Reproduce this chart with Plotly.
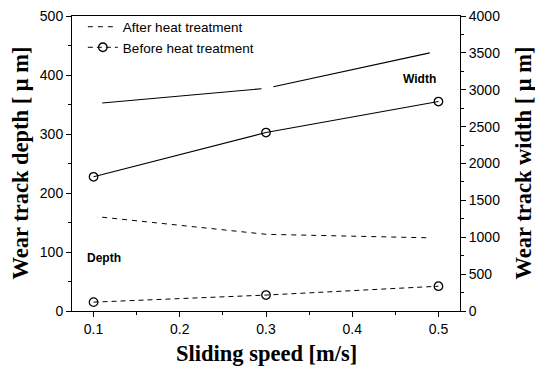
import plotly.graph_objects as go

# Data
speed_before = [0.1, 0.3, 0.5]
speed_after = [0.11, 0.3, 0.49]

depth_before = [15, 27, 42]          # left axis, um
depth_after = [159, 130, 124]        # left axis, um
width_before = [1820, 2420, 2840]    # right axis, um
width_after = [2820, 3020, 3500]     # right axis, um

x_ticks = [0.1, 0.2, 0.3, 0.4, 0.5]
left_ticks = [0, 100, 200, 300, 400, 500]
right_ticks = [0, 500, 1000, 1500, 2000, 2500, 3000, 3500, 4000]

fig = go.Figure()

fig.add_trace(go.Scatter(
    x=speed_after, y=depth_after, mode="lines", name="After heat treatment",
    line=dict(color="black", width=1, dash="5px,5px"), legendgroup="after",
))
fig.add_trace(go.Scatter(
    x=speed_before, y=depth_before, mode="lines+markers", name="Before heat treatment",
    line=dict(color="black", width=1, dash="5px,4px"),
    marker=dict(symbol="circle-open", size=8.5, color="black", line=dict(width=1.3)),
    legendgroup="before",
))
fig.add_trace(go.Scatter(
    x=speed_after, y=width_after, mode="lines", name="After heat treatment",
    line=dict(color="black", width=1.1, dash="160px,12px"), yaxis="y2",
    showlegend=False, legendgroup="after",
))
fig.add_trace(go.Scatter(
    x=speed_before, y=width_before, mode="lines+markers", name="Before heat treatment",
    line=dict(color="black", width=1.1),
    marker=dict(symbol="circle-open", size=8.5, color="black", line=dict(width=1.3)),
    yaxis="y2", showlegend=False, legendgroup="before",
))

fig.add_annotation(x=0.478, y=393, text="<b>Width</b>", showarrow=False,
                   font=dict(family="Liberation Sans", size=12, color="black"))
fig.add_annotation(x=0.112, y=89, text="<b>Depth</b>", showarrow=False,
                   font=dict(family="Liberation Sans", size=12, color="black"))

tick_font = dict(family="Liberation Sans", size=14, color="black")
title_font = dict(family="Liberation Serif", size=22.5, color="black")
xtitle_font = dict(family="Liberation Serif", size=22.5, color="black")

# Axis titles as paper-anchored annotations
fig.add_annotation(xref="paper", yref="paper", x=0, y=0.5, xshift=-52,
                   text="<b>Wear track depth [ μ m]</b>", textangle=-90, showarrow=False,
                   xanchor="center", yanchor="middle", font=title_font)
fig.add_annotation(xref="paper", yref="paper", x=1, y=0.5, xshift=63,
                   text="<b>Wear track width [ μ m]</b>", textangle=-90, showarrow=False,
                   xanchor="center", yanchor="middle", font=title_font)
fig.add_annotation(xref="paper", yref="paper", x=0.5, y=0, yshift=-42,
                   text="<b>Sliding speed [m/s]</b>", showarrow=False,
                   xanchor="center", yanchor="middle", font=xtitle_font)

fig.update_layout(
    width=535, height=370,
    margin=dict(l=72, r=75, t=15, b=59),
    paper_bgcolor="white", plot_bgcolor="white",
    showlegend=True,
    legend=dict(x=0.028, y=1.012, xanchor="left", yanchor="top",
                bgcolor="rgba(0,0,0,0)", font=dict(family="Liberation Sans", size=13.5, color="black"),
                tracegroupgap=0, itemwidth=30),
    xaxis=dict(
        range=[0.075, 0.525], tickvals=x_ticks, ticktext=[str(v) for v in x_ticks],
        ticks="outside", ticklen=5, tickcolor="black", showline=True, linecolor="black",
        linewidth=1, mirror=True, showgrid=False, zeroline=False, tickfont=tick_font,
        minor=dict(dtick=0.05, tick0=0.1, ticks="outside", ticklen=3, tickcolor="black"),
        automargin=False,
    ),
    yaxis=dict(
        range=[0, 500], tickvals=left_ticks, ticks="outside", ticklen=5, tickcolor="black",
        showline=True, linecolor="black", linewidth=1, showgrid=False, zeroline=False,
        tickfont=tick_font, automargin=False,
        minor=dict(dtick=50, ticks="outside", ticklen=3, tickcolor="black"),
    ),
    yaxis2=dict(
        range=[0, 4000], tickvals=right_ticks, overlaying="y", side="right",
        ticks="outside", ticklen=5, tickcolor="black", showline=True, linecolor="black",
        linewidth=1, showgrid=False, zeroline=False, tickfont=tick_font, automargin=False,
        minor=dict(dtick=250, ticks="outside", ticklen=3, tickcolor="black"),
    ),
)

fig.write_html("out.html", config={"displayModeBar": False},
               post_script="document.body.style.margin='0';")
